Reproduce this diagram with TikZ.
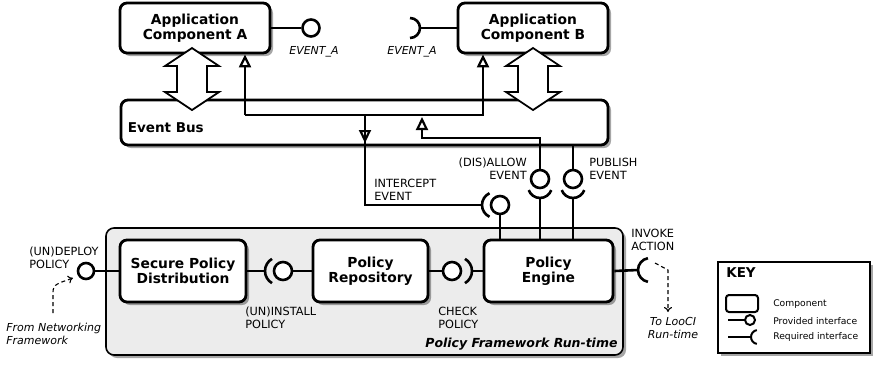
\documentclass[tikz,border=0pt]{standalone}
\usepackage{fontspec}
\setmainfont{DejaVu Sans}
\usetikzlibrary{arrows.meta,calc,positioning,shadows}

\tikzset{
  comp/.style={draw, line width=2.8pt, rounded corners=7pt, fill=white, align=center,
    font=\bfseries\fontsize{13.8}{15.5}\selectfont,
    drop shadow={shadow xshift=3pt, shadow yshift=-3pt, opacity=0.35, fill=black}},
  runtime/.style={draw, line width=1.6pt, rounded corners=8pt, fill=gray!15,
    drop shadow={shadow xshift=3pt, shadow yshift=-3pt, opacity=0.35, fill=black}},
  keybox/.style={draw, line width=1.6pt, fill=white,
    drop shadow={shadow xshift=3pt, shadow yshift=-3pt, opacity=0.35, fill=black}},
  ball/.style={circle, draw, line width=2.6pt, fill=white, minimum size=16pt, inner sep=0pt},
  lbl/.style={font=\fontsize{11.3}{13}\selectfont, align=left, inner sep=0pt},
  elbl/.style={font=\itshape\fontsize{11}{13}\selectfont, align=left, inner sep=0pt},
  bigarrow/.style={draw, line width=1.8pt, fill=white, line join=miter},
  evt/.style={line width=2.6pt, -{Triangle[open, length=13pt, width=12pt, line width=2.2pt]}},
  dashy/.style={dashed, line width=1.1pt, dash pattern=on 4pt off 3pt, -{To[length=5pt, width=8pt]}}
}

% double headed arrow between a component and the bus
\newcommand{\busarrow}[1]{%
  \draw[bigarrow] (#1) -- ++(27,18) -- ++(-12,0) -- ++(0,26) -- ++(12,0) -- ++(-27,18)
    -- ++(-27,-18) -- ++(12,0) -- ++(0,-26) -- ++(-12,0) -- cycle;}

\begin{document}
\begin{tikzpicture}[x=1pt, y=-1pt, line width=2.6pt]
\useasboundingbox (0,0) rectangle (873,365);

% run-time container
\node[runtime, minimum width=517, minimum height=127] (rt) at (364.5,291.5) {};
\node[anchor=south east, inner sep=0pt, font=\bfseries\itshape\fontsize{12.5}{14}\selectfont] (rtlbl) at ($(rt.south east)+(-5,-4)$) {Policy Framework Run-time};

% components
\node[comp, minimum width=150, minimum height=50] (appA) at (195,28) {Application\\Component A};
\node[comp, minimum width=150, minimum height=50] (appB) at (533,28) {Application\\Component B};
\node[comp, minimum width=487, minimum height=45] (bus) at (364.5,122.5) {};
\node[anchor=west, inner sep=0pt, font=\bfseries\fontsize{13.5}{15}\selectfont] (buslbl) at ($(bus.west)+(7,5)$) {Event Bus};
\node[comp, minimum width=126, minimum height=62] (spd) at (183,271) {Secure Policy\\Distribution};
\node[comp, minimum width=115, minimum height=62] (repo) at (370.5,271) {Policy\\Repository};
\node[comp, minimum width=129, minimum height=62] (engine) at (548.5,271) {Policy\\Engine};

% bus <-> components
\busarrow{192,48}
\busarrow{533,48}

% events from the bus to the components
\coordinate (busA) at (245,115);
\coordinate (busB) at (483,115);
\draw[evt] (busA) -- (busA |- appA.south);
\draw[evt] (busA) -- (busB) -- (busB |- appB.south);

% EVENT_A interfaces
\node[ball, minimum size=17pt] (evA) at (311,28) {};
\draw (appA.east) -- (evA);
\node[elbl] (evAlbl) at (314,52) {EVENT\_A};
\coordinate (evBcup) at (420,28);
\draw (evBcup) arc[start angle=0, end angle=90, radius=10];
\draw (evBcup) arc[start angle=0, end angle=-90, radius=10];
\draw (evBcup) -- (appB.west);
\node[elbl] (evBlbl) at (412,52) {EVENT\_A};

% intercept event
\coordinate (icpt) at (365,115);
\coordinate (icup) at (482,205);
\node[ball, minimum size=18pt] (iball) at (500,205) {};
\draw[evt] (icpt) -- ++(0,28);
\draw (icpt) -- (icpt |- icup) -- (icup);
\draw (icup) arc[start angle=180, end angle=115, radius=13];
\draw (icup) arc[start angle=180, end angle=245, radius=13];
\draw (iball) -- (iball |- engine.north);
\node[lbl, anchor=north west] (icptlbl) at (373,178) {INTERCEPT\\EVENT};

% (dis)allow event
\coordinate (alw) at (422,117);
\node[ball, minimum size=18pt] (aball) at (540,179) {};
\coordinate (acup) at (540,198);
\draw[evt] (aball) -- (aball |- 0,138) -- (alw |- 0,138) -- (alw);
\draw (acup) arc[start angle=90, end angle=20, radius=12];
\draw (acup) arc[start angle=90, end angle=160, radius=12];
\draw (acup) -- (acup |- engine.north);
\node[lbl, anchor=north east, align=right] (alwlbl) at (528,157) {(DIS)ALLOW\\EVENT};

% publish event
\node[ball, minimum size=18pt] (pball) at (573,179) {};
\coordinate (pcup) at (573,198);
\draw (pball |- bus.south) -- (pball);
\draw (pcup) arc[start angle=90, end angle=20, radius=12];
\draw (pcup) arc[start angle=90, end angle=160, radius=12];
\draw (pcup) -- (pcup |- engine.north);
\node[lbl, anchor=north west] (publbl) at (588,157) {PUBLISH\\EVENT};

% deploy policy
\node[ball] (dball) at (86,271) {};
\draw (dball) -- (spd.west);
\node[lbl, anchor=north west] (dlbl) at (28,246) {(UN)DEPLOY\\POLICY};
\coordinate (netw) at (53,313);
\draw[dashy] (netw) -- (53,295) .. controls (53,285) .. (73,278);
\node[elbl, anchor=north west] (netlbl) at (5,322) {From Networking\\Framework};

% install policy
\coordinate (incup) at (265,271);
\node[ball, minimum size=18pt] (inball) at (283,271) {};
\draw (spd.east) -- (incup);
\draw (incup) arc[start angle=180, end angle=120, radius=14];
\draw (incup) arc[start angle=180, end angle=240, radius=14];
\draw (inball) -- (repo.west);
\node[lbl, anchor=north west] (inlbl) at (244,306) {(UN)INSTALL\\POLICY};

% check policy
\node[ball, minimum size=18pt] (chball) at (452,271) {};
\coordinate (chcup) at (472,271);
\draw (repo.east) -- (chball);
\draw (chcup) arc[start angle=0, end angle=60, radius=14];
\draw (chcup) arc[start angle=0, end angle=-60, radius=14];
\draw (chcup) -- (engine.west);
\node[lbl, anchor=north west] (chlbl) at (437,306) {CHECK\\POLICY};

% invoke action
\coordinate (ivcup) at (638,270);
\draw (engine.east) -- (ivcup);
\draw (ivcup) arc[start angle=180, end angle=100, radius=12];
\draw (ivcup) arc[start angle=180, end angle=260, radius=12];
\node[lbl, anchor=north west] (ivlbl) at (630,228) {INVOKE\\ACTION};
\draw[dashy] (655,263) -- (668,270) -- (668,312);
\node[elbl, anchor=north, align=center] (loolbl) at (673,316) {To LooCI\\Run-time};

% key
\node[keybox, minimum width=152, minimum height=91] (key) at (794,307.5) {};
\node[anchor=north west, inner sep=0pt, font=\bfseries\fontsize{13.5}{15}\selectfont] (keylbl) at (725,266) {KEY};
\draw[line width=2pt, rounded corners=3pt] (726,295) rectangle (758,312);
\draw[line width=2pt] (728,320) -- (745,320);
\node[ball, line width=2pt, minimum size=10pt] (kball) at (750,320) {};
\draw[line width=2pt] (728,337) -- (751,337);
\draw[line width=2pt] (751,337) arc[start angle=180, end angle=100, radius=7];
\draw[line width=2pt] (751,337) arc[start angle=180, end angle=260, radius=7];
\node[lbl, anchor=west, font=\fontsize{9.2}{11}\selectfont] (kc) at (772,304) {Component};
\node[lbl, anchor=west, font=\fontsize{9.2}{11}\selectfont] (kp) at (772,321) {Provided interface};
\node[lbl, anchor=west, font=\fontsize{9.2}{11}\selectfont] (kr) at (772,337) {Required interface};
\end{tikzpicture}
\end{document}
